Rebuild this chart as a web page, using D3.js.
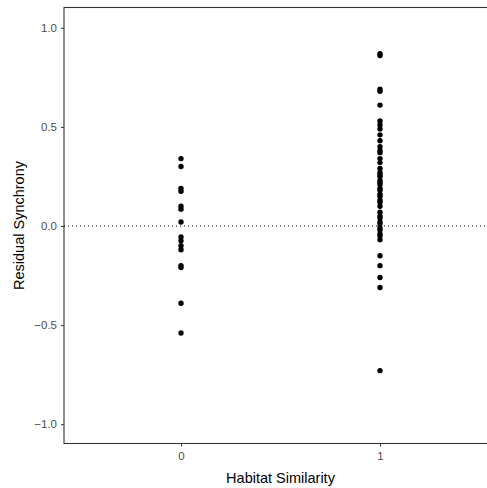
<!DOCTYPE html>
<html>
<head>
<meta charset="utf-8">
<script src="https://cdn.jsdelivr.net/npm/d3@7"></script>
<style>
  html, body { margin: 0; padding: 0; background: #fff; }
  svg { display: block; font-family: "Liberation Sans", Arial, sans-serif; }
</style>
</head>
<body>
<svg id="chart" width="487" height="488"></svg>
<script>
// Habitat similarity groups (x) and residual synchrony of each site pair (y)
const groups = [0, 1];
const residualDissimilar = [0.34, 0.30, 0.19, 0.175, 0.10, 0.085, 0.02, -0.055, -0.075, -0.10, -0.12, -0.20, -0.21, -0.39, -0.54];
const residualSimilar = [
  0.87, 0.86, 0.69, 0.68, 0.61, 0.53, 0.51, 0.49, 0.46, 0.43, 0.40,
  0.38, 0.37, 0.34, 0.32, 0.29, 0.27, 0.26, 0.25, 0.23, 0.22, 0.21,
  0.19, 0.18, 0.16, 0.15, 0.13, 0.12, 0.10, 0.07, 0.05, 0.04, 0.02,
  0.01, -0.01, -0.02, -0.04, -0.05, -0.07, -0.15, -0.20, -0.26, -0.31, -0.73
];
const yTicks = [-1.0, -0.5, 0.0, 0.5, 1.0];

const points = [
  ...residualDissimilar.map(v => ({ g: groups[0], v })),
  ...residualSimilar.map(v => ({ g: groups[1], v }))
];

const svg = d3.select("#chart");
const panel = { left: 64, top: 7.5, right: 499, bottom: 443.5 };

const x = d3.scaleLinear().domain([-0.6, 1.6]).range([61.6, 499.4]);
const y = d3.scaleLinear().domain([-1.1, 1.1]).range([444, 8]);

// panel border (top edge visible; right edge falls outside the frame)
svg.append("rect")
  .attr("x", panel.left).attr("y", panel.top)
  .attr("width", panel.right - panel.left)
  .attr("height", panel.bottom - panel.top)
  .attr("fill", "none").attr("stroke", "#333").attr("stroke-width", 1.1);

// zero reference line
svg.append("line")
  .attr("x1", panel.left).attr("x2", panel.right)
  .attr("y1", y(0)).attr("y2", y(0))
  .attr("stroke", "#000").attr("stroke-width", 1)
  .attr("stroke-dasharray", "1,3");

// y axis
const yAxis = svg.append("g")
  .attr("transform", `translate(${panel.left},0)`)
  .call(d3.axisLeft(y).tickValues(yTicks).tickFormat(d3.format(".1f"))
    .tickSize(3).tickSizeOuter(0).tickPadding(4));
yAxis.select(".domain").remove();
yAxis.selectAll(".tick line").attr("stroke", "#333");
yAxis.selectAll(".tick text").attr("fill", "#4d4d4d").style("font-size", "11.5px");

// x axis
const xAxis = svg.append("g")
  .attr("transform", `translate(0,${panel.bottom})`)
  .call(d3.axisBottom(x).tickValues(groups).tickFormat(d3.format("d"))
    .tickSize(3).tickSizeOuter(0).tickPadding(5));
xAxis.select(".domain").remove();
xAxis.selectAll(".tick line").attr("stroke", "#333");
xAxis.selectAll(".tick text").attr("fill", "#4d4d4d").style("font-size", "11.5px");

// points
svg.append("g")
  .selectAll("circle")
  .data(points)
  .join("circle")
  .attr("cx", d => x(d.g))
  .attr("cy", d => y(d.v))
  .attr("r", 2.7)
  .attr("fill", "#000");

// axis titles
svg.append("text")
  .attr("x", (x(0) + x(1)) / 2).attr("y", 483)
  .attr("text-anchor", "middle")
  .style("font-size", "14.5px").attr("fill", "#000")
  .text("Habitat Similarity");

svg.append("text")
  .attr("transform", `translate(24,${(panel.top + panel.bottom) / 2}) rotate(-90)`)
  .attr("text-anchor", "middle")
  .style("font-size", "14.5px").attr("fill", "#000")
  .text("Residual Synchrony");
</script>
</body>
</html>
